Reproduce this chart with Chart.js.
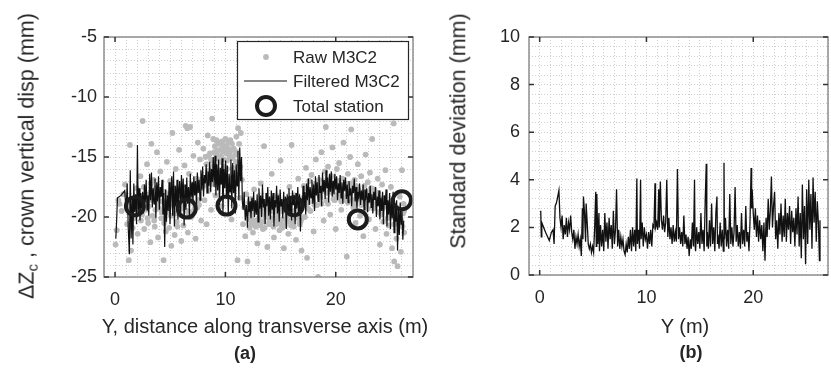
<!DOCTYPE html>
<html>
<head>
<meta charset="utf-8">
<script src="https://cdn.jsdelivr.net/npm/chart.js@4.4.0/dist/chart.umd.min.js"></script>
<style>
html, body { margin:0; padding:0; background:#fff; overflow:hidden; width:831px; height:369px; position:relative;
  font-family:"Liberation Sans", Arial, sans-serif; color:#262626; }
.panel { position:absolute; top:0; }
#boxA { left:0; width:440px; height:369px; }
#boxB { left:440px; width:400px; height:369px; }
.lbl { position:absolute; white-space:nowrap; line-height:1; }
.xt { font-size:20px; transform:translateX(-50%); }
.yt { font-size:21.5px; transform:translate(-50%,-50%) rotate(-90deg); }
.tag { font-size:18px; font-weight:bold; transform:translateX(-50%); }
sub { font-size:0.7em; vertical-align:-0.25em; }
</style>
</head>
<body>
<div class="panel" id="boxA"><canvas id="chartA" width="440" height="369"></canvas></div>
<div class="panel" id="boxB"><canvas id="chartB" width="400" height="369"></canvas></div>

<div class="lbl yt" style="left:28px; top:156px;">&Delta;Z<sub>c</sub> , crown vertical disp (mm)</div>
<div class="lbl xt" style="left:265px; top:316px;">Y, distance along transverse axis (m)</div>
<div class="lbl tag" style="left:245px; top:344px;">(a)</div>

<div class="lbl yt" style="left:459px; top:131px;">Standard deviation (mm)</div>
<div class="lbl xt" style="left:685px; top:316px;">Y (m)</div>
<div class="lbl tag" style="left:691px; top:343px;">(b)</div>

<script>
// Panel (a): crown vertical displacement along Y, [Y (m), dZc (mm)]
const rawM3C2 = [
  [0.05,-22.3],[0.15,-21.1],[0.3,-18.6],[0.6,-19.5],[0.9,-17.3],[1.1,-20.6],[1.25,-23.6],[1.35,-14.0],[1.45,-22.8],[1.55,-19.2],
  [1.7,-20.1],[1.85,-18.4],[1.95,-17.6],[2.05,-21.4],[2.15,-19.7],[2.3,-16.6],[2.35,-20.3],[2.5,-12.0],[2.55,-18.8],[2.65,-21.0],
  [2.8,-19.4],[2.9,-15.6],[3.0,-20.5],[3.1,-18.1],[3.2,-22.1],[3.3,-13.9],[3.4,-19.9],[3.5,-16.9],[3.6,-20.8],[3.7,-17.6],
  [3.8,-14.6],[3.9,-21.7],[4.0,-19.3],[4.1,-16.2],[4.2,-20.1],[4.3,-18.7],[4.4,-23.6],[4.5,-17.9],[4.6,-21.2],[4.7,-15.4],
  [4.8,-19.6],[4.9,-20.9],[5.0,-17.0],[5.1,-22.4],[5.2,-13.0],[5.3,-19.0],[5.4,-21.5],[5.5,-16.0],[5.6,-20.4],[5.7,-18.3],
  [5.8,-14.4],[5.9,-19.8],[6.0,-22.0],[6.1,-17.4],[6.2,-20.7],[6.3,-15.7],[6.4,-12.4],[6.5,-19.5],[6.55,-12.6],[6.6,-21.3],
  [6.7,-16.4],[6.8,-12.5],[6.9,-20.0],[7.0,-18.0],[7.1,-14.9],[7.2,-19.3],[7.3,-21.8],[7.4,-16.8],[7.5,-13.8],[7.6,-19.0],
  [7.7,-15.2],[7.8,-20.3],[7.9,-17.2],[8.0,-14.3],[8.1,-18.6],[8.2,-15.0],[8.3,-20.6],[8.4,-13.2],[8.5,-17.8],[8.6,-14.7],
  [8.7,-19.4],[8.8,-11.8],[8.85,-15.3],[8.9,-13.5],[9.0,-14.6],[9.1,-18.2],[9.15,-14.8],[9.2,-13.6],[9.3,-14.5],[9.4,-16.6],
  [9.45,-13.9],[9.5,-14.4],[9.6,-14.9],[9.65,-19.1],[9.7,-13.7],[9.8,-14.5],[9.9,-15.8],[9.95,-14.2],[10.0,-13.5],[10.1,-14.7],
  [10.2,-17.4],[10.25,-14.3],[10.3,-13.8],[10.4,-14.6],[10.5,-15.0],[10.55,-20.2],[10.6,-13.9],[10.7,-14.4],[10.8,-16.2],[10.9,-14.8],
  [11.0,-13.3],[11.1,-23.6],[11.15,-12.6],[11.2,-15.5],[11.3,-18.4],[11.4,-13.0],[11.5,-16.9],[11.6,-20.6],[11.7,-19.2],[11.8,-21.6],
  [11.9,-18.1],[12.0,-23.7],[12.1,-19.7],[12.2,-20.9],[12.3,-18.5],[12.4,-19.9],[12.5,-21.3],[12.6,-17.7],[12.7,-20.3],[12.8,-19.0],
  [12.9,-22.2],[13.0,-19.6],[13.1,-20.5],[13.2,-17.2],[13.3,-19.3],[13.4,-21.0],[13.5,-14.1],[13.6,-20.0],[13.7,-19.1],[13.8,-22.5],
  [13.9,-18.6],[14.0,-20.4],[14.1,-19.5],[14.2,-16.4],[14.3,-20.1],[14.4,-21.7],[14.5,-19.2],[14.6,-20.6],[14.7,-18.3],[14.8,-19.8],
  [14.9,-21.1],[15.0,-15.3],[15.1,-20.2],[15.2,-19.4],[15.3,-22.6],[15.4,-20.7],[15.5,-18.9],[15.6,-19.9],[15.7,-21.4],[15.8,-17.5],
  [15.9,-20.3],[16.0,-14.0],[16.1,-19.6],[16.2,-20.8],[16.3,-18.2],[16.4,-21.9],[16.5,-19.4],[16.6,-16.8],[16.7,-20.5],[16.8,-19.1],
  [16.9,-22.8],[17.0,-18.6],[17.1,-17.4],[17.2,-20.0],[17.3,-15.9],[17.4,-23.4],[17.5,-18.8],[17.6,-17.0],[17.7,-19.5],[17.8,-16.5],
  [17.9,-18.2],[18.0,-21.2],[18.1,-17.3],[18.2,-15.2],[18.3,-19.0],[18.4,-25.0],[18.5,-16.9],[18.6,-18.4],[18.7,-14.6],[18.8,-17.6],
  [18.9,-20.3],[19.0,-16.2],[19.1,-12.5],[19.2,-18.0],[19.3,-15.8],[19.4,-17.4],[19.5,-19.8],[19.6,-16.6],[19.7,-14.2],[19.8,-18.5],
  [19.9,-17.1],[20.0,-21.0],[20.1,-16.0],[20.2,-18.2],[20.3,-15.5],[20.4,-17.8],[20.5,-19.4],[20.6,-16.8],[20.7,-13.8],[20.8,-18.6],
  [20.9,-17.2],[21.0,-23.3],[21.1,-16.4],[21.2,-18.0],[21.3,-15.0],[21.4,-12.7],[21.5,-17.6],[21.6,-19.2],[21.7,-16.9],[21.8,-20.5],
  [21.9,-18.3],[22.0,-15.6],[22.1,-17.8],[22.2,-19.9],[22.3,-16.6],[22.4,-18.7],[22.5,-21.6],[22.6,-17.4],[22.7,-14.8],[22.8,-18.9],
  [22.9,-17.1],[23.0,-20.2],[23.1,-16.3],[23.2,-18.4],[23.3,-13.5],[23.4,-19.3],[23.5,-17.7],[23.6,-21.0],[23.7,-18.1],[23.8,-16.8],
  [23.9,-19.6],[24.0,-22.3],[24.1,-18.6],[24.2,-17.3],[24.3,-20.4],[24.4,-19.1],[24.5,-16.1],[24.6,-21.4],[24.7,-18.9],[24.8,-20.7],
  [24.9,-19.4],[25.0,-17.5],[25.1,-22.6],[25.2,-20.0],[25.25,-12.2],[25.3,-23.7],[25.4,-19.2],[25.5,-21.8],[25.6,-24.1],[25.7,-20.5],
  [25.8,-18.3],[25.9,-22.9],[26.0,-16.1],[26.1,-19.7],[26.2,-21.3],
  [8.3,-15.6],[8.45,-14.9],[8.55,-16.1],[8.7,-15.2],[8.95,-15.7],[9.05,-14.1],[9.25,-15.1],[9.35,-13.8],[9.55,-15.4],[9.75,-14.0],
  [9.85,-15.2],[10.05,-14.1],[10.15,-15.3],[10.35,-14.9],[10.45,-13.6],[10.65,-15.1],[10.75,-14.3],[10.95,-15.4],[11.05,-14.6],[11.25,-13.9],
  [2.2,-18.9],[2.45,-19.8],[2.75,-18.3],[3.05,-19.1],[3.35,-18.6],[3.65,-19.4],[3.95,-18.2],[4.25,-19.6],[4.55,-18.8],[4.85,-19.2],
  [5.15,-18.5],[5.45,-19.7],[5.75,-18.9],[6.05,-19.3],[6.35,-18.4],[6.65,-19.9],[6.95,-18.7],[7.25,-17.9],[7.55,-18.6],[7.85,-17.6],
  [12.05,-19.3],[12.25,-20.2],[12.45,-19.6],[12.65,-20.5],[12.85,-19.2],[13.05,-20.1],[13.25,-19.7],[13.45,-20.4],[13.65,-19.4],[13.85,-20.0],
  [14.05,-19.1],[14.25,-20.3],[14.45,-19.6],[14.65,-20.1],[14.85,-19.3],[15.05,-20.6],[15.25,-19.5],[15.45,-20.2],[15.65,-19.0],[15.85,-19.8],
  [16.05,-20.4],[16.25,-19.5],[16.45,-20.0],[16.65,-19.2],[16.85,-20.3],
  [17.05,-18.4],[17.35,-18.9],[17.65,-18.1],[17.95,-18.7],[18.25,-17.6],[18.55,-18.3],[18.85,-17.8],[19.15,-18.6],[19.45,-17.3],[19.75,-18.0],
  [20.05,-17.5],[20.35,-18.4],[20.65,-17.7],[20.95,-18.3],[21.25,-17.9],[21.55,-18.6],[21.85,-17.4],[22.15,-18.2],[22.45,-18.8],[22.75,-17.9],
  [23.05,-18.5],[23.35,-18.0],[23.65,-18.9],[23.95,-18.4],
  [24.25,-19.3],[24.55,-18.8],[24.85,-19.7],[25.15,-19.1],[25.45,-20.3],[25.75,-19.6],[26.05,-20.8],[26.15,-18.9],
  [0.4,-18.9],[0.75,-18.1],[1.15,-18.8],[1.6,-20.9],[1.9,-19.0],[2.6,-17.5],[2.95,-20.1],[3.25,-17.2],[3.55,-20.3],[3.85,-18.9],
  [4.15,-17.8],[4.45,-20.5],[4.75,-18.1],[5.05,-19.9],[5.35,-17.6],[5.65,-20.8],[5.95,-18.0],[6.25,-19.0],[6.55,-17.8],[6.85,-19.6],
  [7.15,-17.3],[7.45,-19.2],[7.75,-16.9],[8.05,-17.4],[8.35,-16.7],[8.65,-17.3],[8.95,-16.4],[9.25,-17.0],[9.55,-16.2],[9.85,-17.1],
  [10.15,-16.0],[10.45,-16.8],[10.75,-15.9],[11.05,-16.5],[11.35,-15.8],
  [12.15,-18.8],[12.35,-20.6],[12.55,-19.1],[12.75,-20.8],[12.95,-18.9],[13.15,-20.7],[13.35,-18.7],[13.55,-20.9],[13.75,-19.6],[13.95,-20.6],
  [14.15,-18.9],[14.35,-20.8],[14.55,-18.8],[14.75,-20.5],[14.95,-19.5],[15.15,-20.9],[15.35,-18.8],[15.55,-20.4],[15.75,-19.3],[15.95,-20.7],
  [16.15,-18.7],[16.35,-20.1],[16.55,-19.7],[16.75,-20.6],[16.95,-19.0],
  [17.2,-17.6],[17.5,-19.3],[17.8,-17.9],[18.1,-19.0],[18.4,-17.2],[18.7,-18.9],[19.0,-17.5],[19.3,-18.9],[19.6,-17.7],[19.9,-18.6],
  [20.2,-17.0],[20.5,-18.7],[20.8,-17.4],[21.1,-18.8],[21.4,-17.2],[21.7,-18.9],[22.0,-17.6],[22.3,-19.0],[22.6,-18.4],[22.9,-19.3],
  [23.2,-17.6],[23.5,-19.0],[23.8,-18.0],[24.1,-19.8],[24.4,-18.4],[24.7,-20.1],[25.0,-19.2],[25.3,-20.6],[25.6,-19.9],[25.9,-20.2],
  [26.2,-19.5]
];

const filteredM3C2 = [
  [0.07,-21.8],[0.15,-20.2],[0.22,-18.4],[0.55,-18.2],[0.88,-17.8],
  [1.0,-19.5],[1.1,-17.2],[1.2,-21.0],[1.3,-23.1],[1.38,-16.1],[1.46,-21.8],[1.55,-18.5],[1.62,-22.3],[1.7,-17.2],[1.78,-19.6],
  [1.86,-18.1],[1.95,-20.6],[2.03,-14.0],[2.1,-19.8],[2.18,-17.6],[2.26,-20.3],[2.34,-18.0],[2.42,-19.3],
  [2.5,-17.9],[2.58,-19.7],[2.66,-17.3],[2.74,-18.8],[2.82,-16.9],[2.9,-19.4],[2.98,-18.2],[3.06,-19.9],[3.14,-16.4],[3.22,-18.6],
  [3.3,-16.3],[3.38,-19.2],[3.46,-17.6],[3.54,-18.9],[3.62,-16.8],[3.7,-20.1],[3.78,-17.1],[3.86,-18.7],[3.94,-16.6],[4.02,-19.4],
  [4.1,-17.5],[4.18,-18.3],[4.26,-16.9],[4.34,-19.8],[4.42,-18.0],[4.5,-22.5],[4.58,-17.7],[4.66,-20.4],[4.74,-18.2],[4.82,-19.5],[4.9,-17.1],
  [4.98,-20.6],[5.06,-18.3],[5.14,-16.6],[5.22,-19.9],[5.3,-16.2],[5.38,-20.8],[5.46,-17.4],[5.54,-19.1],[5.62,-16.9],[5.7,-20.2],
  [5.78,-18.0],[5.86,-17.0],[5.94,-19.6],[6.02,-16.5],[6.1,-18.8],[6.18,-16.8],[6.26,-20.7],[6.34,-17.3],[6.42,-19.4],[6.5,-16.7],
  [6.58,-18.9],[6.66,-17.5],[6.74,-19.9],[6.82,-16.4],[6.9,-18.4],[6.98,-17.1],
  [7.06,-18.9],[7.14,-16.6],[7.22,-18.2],[7.3,-17.0],[7.38,-19.1],[7.46,-16.3],[7.54,-18.0],[7.62,-16.9],[7.7,-18.6],[7.78,-16.1],
  [7.86,-17.7],[7.94,-15.8],[8.02,-18.3],[8.1,-16.5],[8.18,-17.2],[8.26,-15.6],[8.34,-18.0],[8.42,-16.2],[8.5,-17.4],[8.58,-15.4],
  [8.66,-17.9],[8.74,-16.0],[8.82,-17.1],[8.9,-15.0],[8.98,-17.5],
  [9.06,-14.9],[9.14,-18.2],[9.22,-15.6],[9.3,-17.8],[9.38,-15.2],[9.46,-19.0],[9.54,-15.9],[9.62,-17.3],[9.7,-15.1],[9.78,-19.6],
  [9.86,-16.0],[9.94,-17.6],[10.02,-15.3],[10.1,-18.5],[10.18,-15.7],[10.26,-19.9],[10.34,-16.4],[10.42,-17.9],[10.5,-15.2],[10.58,-19.3],
  [10.66,-15.5],[10.74,-18.0],[10.82,-16.1],[10.9,-19.7],[10.98,-15.6],[11.06,-17.4],[11.14,-14.5],[11.22,-18.6],[11.3,-14.2],[11.38,-17.0],
  [11.46,-15.0],[11.54,-18.8],
  [11.62,-19.4],[11.7,-17.9],[11.8,-20.3],[11.9,-19.0],[12.0,-20.9],[12.08,-18.3],[12.16,-19.6],[12.24,-18.7],[12.32,-20.1],[12.4,-18.4],
  [12.48,-19.5],[12.56,-17.9],[12.64,-20.0],[12.72,-18.6],[12.8,-19.8],[12.88,-18.1],[12.96,-20.4],[13.04,-17.6],[13.12,-19.3],[13.2,-18.2],
  [13.28,-20.0],[13.36,-17.3],[13.44,-19.2],[13.52,-18.5],[13.6,-20.6],[13.68,-18.0],[13.76,-19.1],[13.84,-17.5],[13.92,-19.9],[14.0,-18.3],
  [14.08,-20.2],[14.16,-17.8],[14.24,-19.4],[14.32,-18.0],[14.4,-20.8],[14.48,-18.6],[14.56,-19.2],[14.64,-17.4],[14.72,-19.7],[14.8,-18.2],
  [14.88,-20.4],[14.96,-17.7],[15.04,-19.1],[15.12,-18.5],[15.2,-20.1],[15.28,-17.9],[15.36,-19.6],[15.44,-18.3],[15.52,-21.0],[15.6,-18.1],
  [15.68,-19.5],[15.76,-17.6],[15.84,-19.8],[15.92,-18.4],[16.0,-20.3],[16.08,-17.8],[16.16,-19.0],[16.24,-18.2],[16.32,-20.6],[16.4,-18.0],
  [16.48,-19.3],[16.56,-17.5],[16.64,-19.9],[16.72,-18.1],[16.8,-21.2],[16.88,-18.6],[16.96,-19.4],
  [17.04,-17.4],[17.12,-19.2],[17.2,-17.9],[17.28,-19.8],[17.36,-17.2],[17.44,-18.6],[17.52,-16.8],[17.6,-19.0],[17.68,-17.5],[17.76,-18.4],
  [17.84,-16.9],[17.92,-18.9],[18.0,-17.3],[18.08,-19.5],[18.16,-16.6],[18.24,-18.2],[18.32,-17.1],[18.4,-18.7],[18.48,-16.5],[18.56,-18.0],
  [18.64,-17.4],[18.72,-19.1],[18.8,-16.3],[18.88,-17.9],[18.96,-16.9],[19.04,-18.5],[19.12,-16.1],[19.2,-17.6],[19.28,-16.7],[19.36,-18.8],
  [19.44,-16.4],[19.52,-17.9],[19.6,-16.2],[19.68,-18.3],[19.76,-17.0],[19.84,-18.1],[19.92,-16.4],[20.0,-17.7],[20.08,-16.6],[20.16,-18.6],
  [20.24,-17.2],[20.32,-18.0],[20.4,-16.5],[20.48,-18.4],[20.56,-17.1],[20.64,-18.9],[20.72,-16.9],[20.8,-17.8],[20.88,-16.7],[20.96,-18.5],
  [21.04,-17.3],[21.12,-18.8],[21.2,-17.0],[21.28,-18.2],[21.36,-17.6],[21.44,-19.1],[21.52,-17.4],[21.6,-18.0],[21.68,-16.8],[21.76,-18.7],
  [21.84,-17.5],[21.92,-19.3],[22.0,-17.9],[22.08,-18.4],[22.16,-17.2],[22.24,-19.0],[22.32,-17.8],[22.4,-18.6],[22.48,-17.3],[22.56,-19.4],
  [22.64,-17.7],[22.72,-18.3],[22.8,-17.6],[22.88,-19.6],[22.96,-18.0],[23.04,-18.8],[23.12,-17.4],[23.2,-19.2],[23.28,-18.1],[23.36,-19.7],
  [23.44,-17.9],[23.52,-18.6],[23.6,-17.5],[23.68,-20.0],[23.76,-18.3],[23.84,-19.1],[23.92,-17.8],
  [24.0,-20.2],[24.08,-18.4],[24.16,-19.5],[24.24,-17.9],[24.32,-20.6],[24.4,-18.2],[24.48,-19.0],[24.56,-17.7],[24.64,-20.8],[24.72,-18.6],
  [24.8,-19.8],[24.88,-18.0],[24.96,-21.0],[25.04,-18.4],[25.12,-20.1],[25.2,-17.9],[25.28,-21.3],[25.36,-19.0],[25.44,-20.4],[25.52,-18.6],
  [25.6,-22.8],[25.68,-19.4],[25.76,-21.5],[25.84,-18.8],[25.92,-20.6],[26.0,-19.5],[26.08,-21.9],[26.16,-20.3]
];

const totalStation = [[1.8,-19.1],[6.5,-19.3],[10.1,-19.05],[16.2,-19.1],[22.0,-20.2],[26.0,-18.6]];

// Panel (b): standard deviation along Y, [Y (m), std (mm)]
const stdDeviation = [
  [0.1,2.7],[0.15,1.6],[0.2,2.2],[0.55,1.8],[0.9,1.45],[1.1,1.8],[1.25,1.9],[1.35,1.3],[1.45,2.9],[1.55,3.0],
  [1.65,3.2],[1.8,3.55],[1.9,2.4],[2.0,2.0],
  [2.1,2.5],[2.2,1.5],[2.3,2.1],[2.4,1.7],[2.5,2.4],[2.6,1.6],[2.7,2.2],[2.8,1.9],[2.9,2.5],[3.0,1.8],
  [3.1,1.5],[3.2,1.9],[3.3,1.1],[3.4,1.6],[3.5,1.3],[3.6,1.7],[3.7,1.2],[3.8,1.5],[3.9,0.8],[4.0,2.8],
  [4.05,1.5],[4.1,3.3],[4.2,2.6],[4.3,1.4],[4.35,3.0],[4.45,2.2],[4.55,1.3],[4.65,1.1],[4.75,1.3],[4.85,0.95],
  [4.95,1.2],[5.05,0.95],
  [5.15,2.0],[5.25,3.5],[5.3,1.2],[5.35,3.4],[5.45,1.3],[5.55,2.6],[5.6,1.0],[5.7,2.1],[5.8,1.2],[5.9,1.9],
  [6.0,1.0],[6.1,2.6],[6.2,1.4],[6.3,2.2],[6.4,1.1],[6.5,2.4],[6.6,1.5],[6.7,2.1],[6.8,1.1],[6.9,2.7],
  [7.0,1.3],[7.1,1.9],[7.2,3.6],[7.3,1.2],[7.4,1.9],[7.5,1.1],[7.6,1.6],[7.7,1.2],[7.8,1.5],[7.9,1.0],
  [8.0,0.85],[8.1,1.3],[8.2,0.95],[8.3,1.6],[8.4,1.1],[8.5,1.9],[8.6,1.0],[8.7,2.0],[8.8,1.2],[8.9,1.9],
  [9.0,1.0],[9.1,4.05],[9.15,1.3],[9.25,1.9],[9.35,1.1],[9.45,4.0],[9.5,1.5],[9.6,2.2],[9.7,1.2],[9.8,2.0],
  [9.9,1.5],[10.0,1.7],[10.1,1.1],[10.2,1.8],[10.3,1.3],[10.4,1.9],[10.5,1.2],[10.6,2.1],[10.7,2.0],[10.8,3.85],
  [10.85,2.0],[10.95,2.2],[11.05,1.9],[11.15,3.6],[11.2,2.0],[11.3,3.93],[11.4,2.3],[11.5,1.9],[11.6,2.5],[11.7,1.8],
  [11.8,2.2],[11.9,4.0],[12.0,1.6],[12.1,2.4],[12.2,1.5],[12.3,2.0],[12.4,1.3],[12.5,2.1],[12.6,1.4],[12.7,1.8],
  [12.8,1.4],[12.9,4.45],[13.0,1.5],[13.1,2.0],[13.2,1.3],[13.3,1.8],[13.4,1.2],[13.5,2.5],[13.6,1.3],[13.7,1.7],
  [13.8,1.1],[13.9,1.6],[14.0,0.8],[14.1,1.5],[14.2,1.1],[14.3,2.2],[14.4,1.2],[14.5,4.0],[14.55,1.3],[14.6,1.0],
  [14.7,2.0],[14.8,1.3],[14.9,1.8],[15.0,1.1],[15.1,2.6],[15.2,1.3],[15.3,1.9],[15.4,1.0],[15.5,3.1],[15.6,4.67],
  [15.65,1.2],[15.7,1.8],[15.8,1.1],[15.9,2.3],[16.0,1.2],[16.1,3.0],[16.2,1.3],[16.3,2.0],[16.4,1.0],[16.5,2.6],
  [16.6,3.3],[16.65,1.3],[16.7,1.7],[16.8,1.1],[16.9,2.2],[17.0,1.2],[17.1,1.9],[17.2,1.0],[17.26,4.72],[17.3,1.5],
  [17.4,2.4],[17.5,1.2],[17.6,1.9],[17.7,1.1],[17.8,3.4],[17.9,1.3],[18.0,2.0],[18.1,1.2],[18.2,1.8],[18.3,3.7],
  [18.4,1.4],[18.5,2.1],[18.6,1.2],[18.7,1.8],[18.8,1.1],[18.9,2.6],[19.0,1.3],[19.1,1.9],[19.2,1.2],[19.3,2.9],
  [19.4,1.4],[19.5,1.8],[19.6,1.0],[19.7,2.3],[19.8,4.5],[19.85,2.8],[19.9,3.6],[20.0,2.6],[20.1,1.9],[20.2,2.8],
  [20.3,1.6],[20.4,2.5],[20.5,1.4],[20.6,2.3],[20.7,1.5],[20.8,2.1],[20.9,1.0],[21.0,2.2],[21.1,0.6],[21.2,2.4],
  [21.3,1.6],[21.4,3.2],[21.5,1.9],[21.6,2.7],[21.7,4.14],[21.8,2.0],[21.9,2.9],[22.0,3.5],[22.1,1.5],[22.2,2.3],
  [22.3,1.1],[22.4,2.6],[22.5,1.7],[22.6,3.0],[22.7,1.4],[22.8,2.5],[22.9,1.6],[23.0,3.2],[23.1,1.4],[23.2,2.6],
  [23.3,1.9],[23.4,2.9],[23.5,1.3],[23.6,2.7],[23.7,1.8],[23.8,2.4],[23.9,1.2],[24.0,2.8],[24.1,1.7],[24.2,3.3],
  [24.3,1.2],[24.4,2.6],[24.5,0.7],[24.6,3.8],[24.7,1.5],[24.8,2.9],[24.9,0.45],[25.0,3.6],[25.1,1.3],[25.2,4.0],
  [25.3,1.9],[25.4,3.4],[25.5,1.1],[25.6,4.1],[25.7,2.2],[25.8,3.5],[25.9,1.4],[26.0,3.1],[26.1,2.2],[26.2,0.6],
  [26.25,2.3]
];

const legendLabels = ['Raw M3C2', 'Filtered M3C2', 'Total station'];
const xTickLabels = [0, 10, 20];
const yTickLabelsA = [-25, -20, -15, -10, -5];
const yTickLabelsB = [0, 2, 4, 6, 8, 10];

const FONT = '"Liberation Sans", Arial, sans-serif';
const INK = '#262626';
Chart.defaults.font.family = FONT;
Chart.defaults.color = INK;

const toXY = arr => arr.map(([x, y]) => ({ x, y }));
const isMajor = (list, v) => list.some(t => Math.abs(t - v) < 1e-6);

// box around the axes plus inward major ticks (MATLAB style)
const framePlugin = {
  id: 'frame',
  afterDraw(chart, args, opts) {
    const { ctx, chartArea: a } = chart;
    const x = chart.scales.x, y = chart.scales.y;
    ctx.save();
    ctx.strokeStyle = '#8f8f8f';
    ctx.lineWidth = 1.5;
    ctx.strokeRect(a.left, a.top, a.right - a.left, a.bottom - a.top);
    ctx.strokeStyle = '#333';
    ctx.lineWidth = 1.5;
    ctx.beginPath();
    opts.xMajor.forEach(v => {
      const px = x.getPixelForValue(v);
      ctx.moveTo(px, a.bottom); ctx.lineTo(px, a.bottom - 5);
      ctx.moveTo(px, a.top); ctx.lineTo(px, a.top + 5);
    });
    opts.yMajor.forEach(v => {
      const py = y.getPixelForValue(v);
      ctx.moveTo(a.left, py); ctx.lineTo(a.left + 5, py);
      ctx.moveTo(a.right, py); ctx.lineTo(a.right - 5, py);
    });
    ctx.stroke();
    ctx.restore();
  }
};

// legend box in the upper right of panel (a)
const legendBox = {
  id: 'legendBox',
  afterDraw(chart) {
    const { ctx, chartArea: a } = chart;
    const ds = chart.data.datasets;
    const L = a.right - 176, T = a.top + 4, W = 171, H = 78;
    ctx.save();
    ctx.fillStyle = '#fff';
    ctx.fillRect(L, T, W, H);
    ctx.strokeStyle = INK;
    ctx.lineWidth = 1.2;
    ctx.strokeRect(L + 0.5, T + 0.5, W, H);
    ctx.font = '17px ' + FONT;
    ctx.textBaseline = 'middle';
    const rows = [T + 16, T + 40, T + 65];
    const sx = L + 29;
    // raw dot
    ctx.fillStyle = ds[0].pointBackgroundColor;
    ctx.beginPath(); ctx.arc(sx, rows[0], ds[0].pointRadius, 0, Math.PI * 2); ctx.fill();
    // filtered line
    ctx.strokeStyle = ds[1].borderColor; ctx.lineWidth = ds[1].borderWidth;
    ctx.beginPath(); ctx.moveTo(L + 7, rows[1]); ctx.lineTo(L + 50, rows[1]); ctx.stroke();
    // total station circle
    ctx.strokeStyle = ds[2].pointBorderColor; ctx.lineWidth = ds[2].pointBorderWidth;
    ctx.beginPath(); ctx.arc(sx, rows[2], ds[2].pointRadius, 0, Math.PI * 2); ctx.stroke();
    ctx.fillStyle = INK;
    ds.forEach((d, i) => ctx.fillText(d.label, L + 56, rows[i] + 1));
    ctx.restore();
  }
};

function axis(min, max, step, labels, fit, pad) {
  return {
    type: 'linear', min, max,
    afterFit: fit,
    grid: { color: '#cfcfcf', lineWidth: 1, drawTicks: false },
    border: { display: false, dash: [1, 2] },
    ticks: {
      stepSize: step, autoSkip: false, maxRotation: 0, padding: pad,
      color: INK, font: { size: 18, family: FONT },
      callback: v => isMajor(labels, v) ? String(Math.round(v)) : ''
    }
  };
}

new Chart(document.getElementById('chartA'), {
  type: 'scatter',
  data: {
    datasets: [
      { label: legendLabels[0], data: toXY(rawM3C2), pointRadius: 2.9, pointBackgroundColor: '#bababa',
        pointBorderWidth: 0, order: 3 },
      { label: legendLabels[1], data: toXY(filteredM3C2), showLine: true, borderColor: '#111',
        borderWidth: 1.2, pointRadius: 0, order: 2 },
      { label: legendLabels[2], data: toXY(totalStation), pointRadius: 9, pointBorderWidth: 4,
        pointBorderColor: '#1c1c1c', pointBackgroundColor: 'rgba(0,0,0,0)', order: 1 }
    ]
  },
  options: {
    responsive: false, animation: false,
    layout: { padding: { left: 0, top: 37, right: 27, bottom: 0 } },
    plugins: { legend: { display: false }, tooltip: { enabled: false },
      frame: { xMajor: xTickLabels, yMajor: yTickLabelsA } },
    scales: {
      x: axis(-1, 27, 1, xTickLabels, s => { s.height = 92; }, 12),
      y: axis(-25, -5, 1, yTickLabelsA, s => { s.width = 104; }, 7)
    }
  },
  plugins: [framePlugin, legendBox]
});

new Chart(document.getElementById('chartB'), {
  type: 'scatter',
  data: {
    datasets: [
      { label: 'Standard deviation', data: toXY(stdDeviation), showLine: true, borderColor: '#111',
        borderWidth: 1.3, pointRadius: 0 }
    ]
  },
  options: {
    responsive: false, animation: false,
    layout: { padding: { left: 0, top: 37, right: 5, bottom: 0 } },
    plugins: { legend: { display: false }, tooltip: { enabled: false },
      frame: { xMajor: xTickLabels, yMajor: yTickLabelsB } },
    scales: {
      x: axis(-1, 27, 1, xTickLabels, s => { s.height = 94; }, 12),
      y: axis(0, 10, 0.4, yTickLabelsB, s => { s.width = 89; }, 9)
    }
  },
  plugins: [framePlugin]
});
</script>
</body>
</html>
